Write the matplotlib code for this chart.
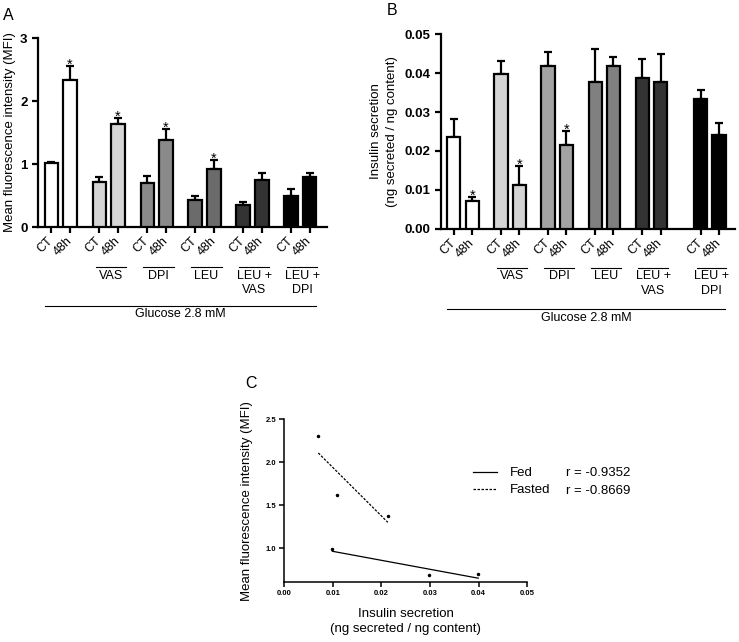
import numpy as np
import matplotlib
matplotlib.use('Agg')
import matplotlib.pyplot as plt
import matplotlib.transforms as mtransforms

plt.rcParams['font.family'] = ['Liberation Sans', 'DejaVu Sans']

# Group names shown under the bars (first group is the plain control)
groups = ['', 'VAS', 'DPI', 'LEU', 'LEU +\nVAS', 'LEU +\nDPI']
bar_labels = ['CT', '48h']

# Panel A - mean fluorescence intensity
mfi_ct = [1.01, 0.71, 0.70, 0.43, 0.35, 0.49]
mfi_ct_err = [0.02, 0.09, 0.11, 0.06, 0.05, 0.11]
mfi_48h = [2.33, 1.64, 1.38, 0.92, 0.74, 0.80]
mfi_48h_err = [0.22, 0.09, 0.17, 0.14, 0.12, 0.05]
mfi_star = [True, True, True, True, False, False]

# Panel B - insulin secretion
ins_ct = [0.0235, 0.0398, 0.0418, 0.0377, 0.0387, 0.0334]
ins_ct_err = [0.0047, 0.0033, 0.0037, 0.0084, 0.0049, 0.0023]
ins_48h = [0.0072, 0.0112, 0.0214, 0.0418, 0.0376, 0.0241]
ins_48h_err = [0.0010, 0.0049, 0.0037, 0.0024, 0.0073, 0.0032]
ins_star = [True, True, True, False, False, False]

# Panel C - correlation
fed_x = [0.0099, 0.0298, 0.0399]
fed_y = [0.99, 0.69, 0.70]
fasted_x = [0.0070, 0.0108, 0.0213]
fasted_y = [2.31, 1.62, 1.376]
r_fed = 'r = -0.9352'
r_fasted = 'r = -0.8669'

colors_a = ['white', '#d4d4d4', '#8a8a8a', '#6b6b6b', '#333333', 'black']
colors_b = ['white', '#d4d4d4', '#a3a3a3', '#808080', '#333333', 'black']


def bar_panel(ax, starts, ct, ct_err, h48, h48_err, stars, colors, off,
              over_y, lbl_y, long_y, gl_y):
    ct_x = np.array(starts, dtype=float)
    h_x = ct_x + off
    for xs, vals, errs in ((ct_x, ct, ct_err), (h_x, h48, h48_err)):
        ax.bar(xs, vals, width=0.28, color=colors, edgecolor='black',
               linewidth=1.6, zorder=3)
        ax.errorbar(xs, vals, yerr=[np.zeros(len(vals)), errs], fmt='none',
                    ecolor='black', elinewidth=1.6, capsize=3.2,
                    capthick=1.6, zorder=2)
    for i, s in enumerate(stars):
        if s:
            ax.annotate('*', (h_x[i], h48[i] + h48_err[i]), xytext=(0, -2),
                        textcoords='offset points', ha='center',
                        va='baseline', fontsize=10.5)
    pos = np.column_stack([ct_x, h_x]).ravel()
    ax.set_xticks(pos)
    ax.set_xticklabels(bar_labels * len(starts), rotation=45, ha='right',
                       va='center', rotation_mode='anchor', fontsize=9)
    ax.tick_params(axis='both', direction='out', length=4, width=1.6)
    ax.tick_params(axis='x', pad=5)
    ax.tick_params(axis='y', labelsize=9.5)
    for side in ('top', 'right'):
        ax.spines[side].set_visible(False)
    for side in ('left', 'bottom'):
        ax.spines[side].set_linewidth(1.6)

    # group labels with a line above them
    tr = mtransforms.blended_transform_factory(ax.transData, ax.transAxes)
    for i, g in enumerate(groups):
        if not g:
            continue
        x0, x1 = ct_x[i] - 0.08, h_x[i] + 0.16
        ax.plot([x0, x1], [over_y, over_y], color='black', lw=0.8,
                transform=tr, clip_on=False)
        ax.text((x0 + x1) / 2, lbl_y, g, transform=tr, ha='center',
                va='top', fontsize=9, linespacing=1.3)
    x0, x1 = ct_x[0] - 0.14, h_x[-1] + 0.12
    ax.plot([x0, x1], [long_y, long_y], color='black', lw=0.8,
            transform=tr, clip_on=False)
    ax.text((x0 + x1) / 2, gl_y, 'Glucose 2.8 mM', transform=tr,
            ha='center', va='top', fontsize=9)


fig = plt.figure(figsize=(7.39, 6.42), dpi=100)

# Panel A
ax_a = fig.add_axes([0.0514, 0.6464, 0.3911, 0.2944])
bar_panel(ax_a, [0, 1, 2, 3, 4, 5], mfi_ct, mfi_ct_err, mfi_48h, mfi_48h_err,
          mfi_star, colors_a, 0.39, -0.21, -0.225, -0.418, -0.43)
ax_a.set_xlim(-0.28, 5.75)
ax_a.set_ylim(0, 3)
ax_a.set_yticks([0, 1, 2, 3])
for lab in ax_a.get_yticklabels():
    lab.set_fontweight('bold')
ax_a.set_ylabel('Mean fluorescence intensity (MFI)', fontsize=9.5)
ax_a.yaxis.set_label_coords(-0.076, 0.5)

# Panel B
ax_b = fig.add_axes([0.5963, 0.6438, 0.3982, 0.3028])
bar_panel(ax_b, [0, 1, 2, 3, 4, 5.24], ins_ct, ins_ct_err, ins_48h,
          ins_48h_err, ins_star, colors_b, 0.39, -0.2, -0.215, -0.415, -0.43)
ax_b.set_xlim(-0.28, 5.97)
ax_b.set_ylim(0, 0.05)
ax_b.set_yticks([0, 0.01, 0.02, 0.03, 0.04, 0.05])
ax_b.set_yticklabels(['0.00', '0.01', '0.02', '0.03', '0.04', '0.05'],
                     fontweight='bold')
ax_b.set_ylabel('Insulin secretion\n(ng secreted / ng content)',
                fontsize=9.5, linespacing=1.4)
ax_b.yaxis.set_label_coords(-0.145, 0.5)

# Panel C
ax_c = fig.add_axes([0.3847, 0.0935, 0.3288, 0.2534])
ax_c.plot(fed_x, fed_y, 'o', color='black', markersize=1.5)
ax_c.plot(fasted_x, fasted_y, 'o', color='black', markersize=1.5)
k, b = np.polyfit(fed_x, fed_y, 1)
xs = np.array([min(fed_x), max(fed_x)])
fed_line, = ax_c.plot(xs, k * xs + b, color='black', lw=0.9)
k, b = np.polyfit(fasted_x, fasted_y, 1)
xs = np.array([min(fasted_x), max(fasted_x)])
fasted_line, = ax_c.plot(xs, k * xs + b, color='black', lw=0.9,
                         dashes=(2, 1.2))
ax_c.set_xlim(0, 0.05)
ax_c.set_ylim(0.61, 2.5)
ax_c.set_xticks([0, 0.01, 0.02, 0.03, 0.04, 0.05])
ax_c.set_xticklabels(['0.00', '0.01', '0.02', '0.03', '0.04', '0.05'],
                     fontweight='bold', fontsize=5.5)
ax_c.set_yticks([1.0, 1.5, 2.0, 2.5])
ax_c.set_yticklabels(['1.0', '1.5', '2.0', '2.5'], fontweight='bold',
                     fontsize=5.5)
ax_c.tick_params(direction='out', length=3.5, width=1.1, pad=2)
for side in ('top', 'right'):
    ax_c.spines[side].set_visible(False)
for side in ('left', 'bottom'):
    ax_c.spines[side].set_linewidth(1.1)
ax_c.set_ylabel('Mean fluorescence intensity (MFI)', fontsize=9.5)
ax_c.yaxis.set_label_coords(-0.129, 0.5)
ax_c.set_xlabel('Insulin secretion\n(ng secreted / ng content)',
                fontsize=9.5, linespacing=1.35)
ax_c.xaxis.set_label_coords(0.5, -0.16)

fig.legend([fed_line, fasted_line], ['Fed', 'Fasted'], frameon=False,
           loc='center left', bbox_to_anchor=(0.640, 0.2497),
           borderpad=0, borderaxespad=0, handlelength=1.8,
           handletextpad=1.0, labelspacing=0.35, fontsize=9.5)
fig.text(0.7655, 1 - 472.7 / 642, r_fed, fontsize=9.5, va='center')
fig.text(0.7655, 1 - 490.7 / 642, r_fasted, fontsize=9.5, va='center')

# Panel letters
fig.text(0.004, 1 - 20 / 642, 'A', fontsize=11.5, va='baseline')
fig.text(387 / 739, 1 - 15 / 642, 'B', fontsize=11.5, va='baseline')
fig.text(245 / 739, 1 - 388 / 642, 'C', fontsize=11.5, va='baseline')

fig.savefig('out.png', dpi=100)
